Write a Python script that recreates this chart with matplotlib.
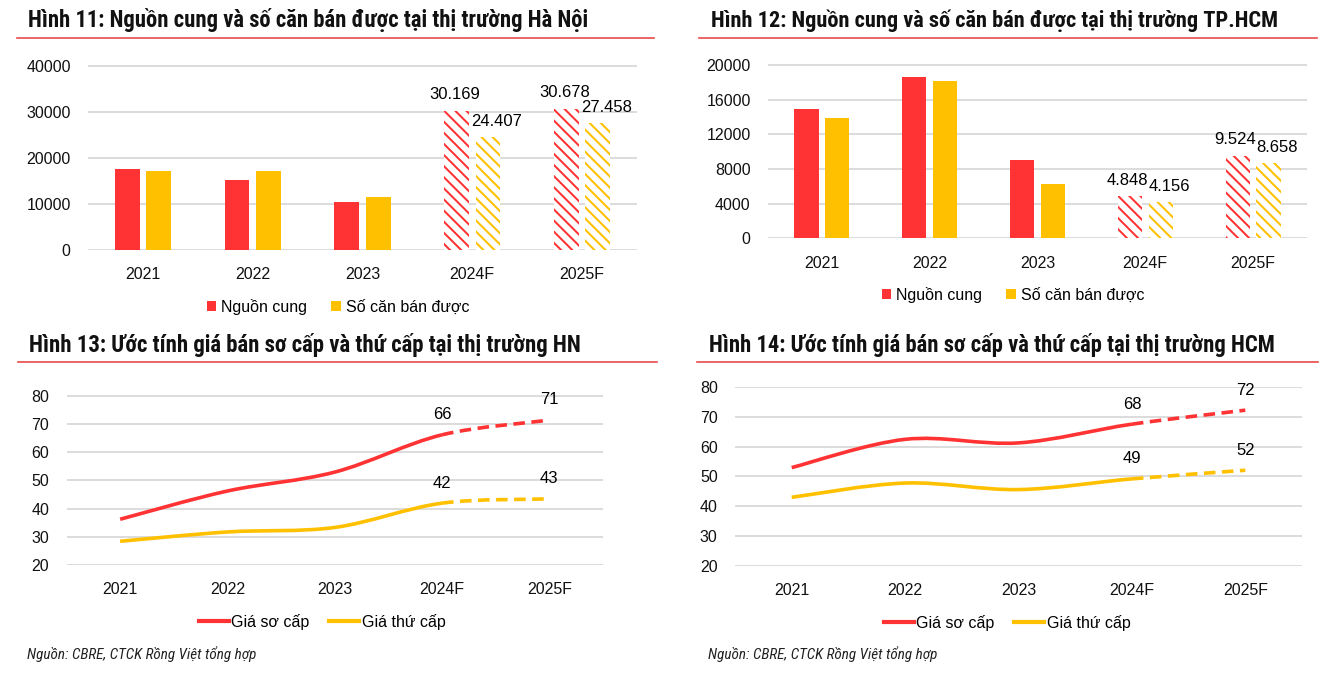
import matplotlib
matplotlib.use('Agg')
import matplotlib.pyplot as plt
from matplotlib import font_manager
from matplotlib.path import Path
from matplotlib.patches import PathPatch, Patch
from matplotlib.lines import Line2D
import numpy as np

years = ['2021', '2022', '2023', '2024F', '2025F']
n_actual = 3  # 2021-2023 are actual, 2024F/2025F are forecasts

# Hình 11 / 12: supply and units sold
hn_supply = [17500, 15100, 10400, 30169, 30678]
hn_sold = [17150, 17150, 11400, 24407, 27458]
hcm_supply = [14850, 18620, 8970, 4848, 9524]
hcm_sold = [13830, 18080, 6210, 4156, 8658]

# Hình 13 / 14: primary and secondary prices
hn_primary = [36.2, 46.2, 52.9, 66.1, 71.3]
hn_secondary = [28.4, 31.7, 33.3, 41.9, 43.4]
hcm_primary = [53.0, 62.5, 61.3, 67.6, 72.3]
hcm_secondary = [43.0, 47.8, 45.6, 49.2, 52.1]

RED = '#FF3333'
YELLOW = '#FFC000'
GRID = '#D9D9D9'

# look for a condensed face for the titles
fonts = font_manager.fontManager.ttflist
names = {f.name for f in fonts}
BODY = 'Liberation Sans'
NARROW, STRETCH = 'Liberation Sans', 'normal'
for cand in ['Liberation Sans Narrow', 'DejaVu Sans Condensed', 'Roboto Condensed',
             'Open Sans Condensed', 'Noto Sans Condensed']:
    if cand in names:
        NARROW = cand
        break
else:
    for f in fonts:
        if f.stretch in ('condensed', 'semi-condensed', 'extra-condensed') and \
                f.name in ('Noto Sans', 'Open Sans', 'Roboto', 'DejaVu Sans', 'Inter'):
            NARROW, STRETCH = f.name, 'condensed'
            break

plt.rcParams['font.family'] = [BODY, 'DejaVu Sans']
plt.rcParams['hatch.linewidth'] = 1.45

W, H = 1340, 673
fig = plt.figure(figsize=(W / 100, H / 100), dpi=100)


def px(x, y):
    return x / W, 1 - y / H


def make_ax(x0, x1, ytop, ybot):
    ax = fig.add_axes([x0 / W, 1 - ybot / H, (x1 - x0) / W, (ybot - ytop) / H])
    for sp in ax.spines.values():
        sp.set_visible(False)
    ax.tick_params(length=0, pad=12.5, labelsize=11.5, colors='#111111')
    ax.yaxis.grid(True, color=GRID, lw=1.3)
    ax.set_axisbelow(True)
    ax.set_xlim(-0.5, len(years) - 0.5)
    ax.set_xticks(range(len(years)))
    ax.set_xticklabels(years)
    return ax


def fmt_vn(v):
    return f'{v:,}'.replace(',', '.')


def bar_panel(ax, supply, sold, ymax, step):
    x = np.arange(len(years))
    off, w = 0.143, 0.225
    a, f = slice(0, n_actual), slice(n_actual, None)
    ax.bar(x[a] - off, supply[a], width=w, color=RED, lw=0)
    ax.bar(x[a] + off, sold[a], width=w, color=YELLOW, lw=0)
    ax.bar(x[f] - off, supply[f], width=w, color='white', edgecolor=RED,
           hatch='\\\\\\', lw=0)
    ax.bar(x[f] + off, sold[f], width=w, color='white', edgecolor=YELLOW,
           hatch='\\\\\\', lw=0)
    for i in range(n_actual, len(years)):
        ax.annotate(fmt_vn(supply[i]), (x[i] - off, supply[i]), xytext=(-1.5, 11.5),
                    textcoords='offset points', ha='center', va='center', fontsize=12)
        ax.annotate(fmt_vn(sold[i]), (x[i] + off, sold[i]), xytext=(6, 11.5),
                    textcoords='offset points', ha='center', va='center', fontsize=12)
    ax.set_ylim(0, ymax * 1.003)
    ax.set_yticks(np.arange(0, ymax + 1, step))


def seg(pts, i):
    p0 = pts[i - 1] if i > 0 else pts[i]
    p3 = pts[i + 2] if i + 2 < len(pts) else pts[i + 1]
    c1 = pts[i] + (pts[i + 1] - p0) / 6
    c2 = pts[i + 1] - (p3 - pts[i]) / 6
    return [c1, c2, pts[i + 1]]


def curve(ax, vals, color, ls):
    pts = np.column_stack([np.arange(len(vals)), vals]).astype(float)
    for lo, hi, style in [(0, n_actual, '-'), (n_actual, len(vals) - 1, ls)]:
        verts, codes = [pts[lo]], [Path.MOVETO]
        for i in range(lo, hi):
            verts += seg(pts, i)
            codes += [Path.CURVE4] * 3
        ax.add_patch(PathPatch(Path(verts, codes), fill=False, edgecolor=color,
                               lw=2.6, linestyle=style, capstyle='butt'))
    for i in range(n_actual, len(vals)):
        ax.annotate(f'{vals[i]:.0f}', (i, vals[i]), xytext=(0, 14.5),
                    textcoords='offset points', ha='center', va='center', fontsize=12)


def line_panel(ax, primary, secondary):
    dash = (0, (3.2, 1.8))
    curve(ax, primary, RED, dash)
    curve(ax, secondary, YELLOW, dash)
    ax.set_ylim(20, 80.2)
    ax.set_yticks(np.arange(20, 81, 10))


def header(text, x_text, y_base, width, x0, x1, y_line):
    t = fig.text(*px(x_text, y_base), text, fontsize=14, fontweight='bold',
                 family=[NARROW, 'DejaVu Sans'], fontstretch=STRETCH,
                 color='#111111', va='baseline')
    fig.add_artist(Line2D([x0 / W, x1 / W], [1 - y_line / H] * 2, color='#E84A4A',
                          lw=1.2, transform=fig.transFigure))
    return t, width


# panels
ax1 = make_ax(88, 637, 65, 250)
bar_panel(ax1, hn_supply, hn_sold, 40000, 10000)
ax2 = make_ax(768, 1307, 64.3, 238.3)
bar_panel(ax2, hcm_supply, hcm_sold, 20000, 4000)
ax3 = make_ax(66.5, 603, 395, 565)
line_panel(ax3, hn_primary, hn_secondary)
ax4 = make_ax(735, 1302, 386.7, 565.7)
line_panel(ax4, hcm_primary, hcm_secondary)

fitted = [
    header('Hình 11: Nguồn cung và số căn bán được tại thị trường Hà Nội', 28, 27, 563, 17, 654, 37.7),
    header('Hình 12: Nguồn cung và số căn bán được tại thị trường TP.HCM', 711, 27, 572, 699, 1317, 37.5),
    header('Hình 13: Ước tính giá bán sơ cấp và thứ cấp tại thị trường HN', 29, 352, 555, 18, 657, 361.7),
    header('Hình 14: Ước tính giá bán sơ cấp và thứ cấp tại thị trường HCM', 709, 352, 570, 697, 1318, 361.7),
]

# legends
bar_handles = [Patch(color=RED, lw=0), Patch(color=YELLOW, lw=0)]
bar_labels = ['Nguồn cung', 'Số căn bán được']
line_handles = [Line2D([], [], color=RED, lw=3), Line2D([], [], color=YELLOW, lw=3)]
line_labels = ['Giá sơ cấp', 'Giá thứ cấp']
for (cx, cy), hs, ls, kw in [
    ((338, 307), bar_handles, bar_labels, dict(handlelength=0.6, handleheight=0.6, handletextpad=0.3, columnspacing=1.5)),
    ((1013, 295), bar_handles, bar_labels, dict(handlelength=0.6, handleheight=0.6, handletextpad=0.3, columnspacing=1.5)),
    ((322, 622), line_handles, line_labels, dict(handlelength=1.9, handletextpad=0.15, columnspacing=1.2)),
    ((1007, 623), line_handles, line_labels, dict(handlelength=1.9, handletextpad=0.15, columnspacing=1.2)),
]:
    fig.legend(hs, ls, loc='center', bbox_to_anchor=px(cx, cy), ncol=2, frameon=False,
               fontsize=11.5, borderpad=0, borderaxespad=0, **kw)

for x in (27, 708):
    s = fig.text(*px(x, 654), 'Nguồn: CBRE, CTCK Rồng Việt tổng hợp', fontsize=10.5,
                 style='italic', family=[NARROW, 'DejaVu Sans'], fontstretch=STRETCH,
                 color='#222222', va='center')
    fitted.append((s, 230))

# fit text widths to the reference
r = fig.canvas.get_renderer()
for t, w in fitted:
    bb = t.get_window_extent(r)
    t.set_fontsize(t.get_fontsize() * w / bb.width)

fig.savefig('out.png', dpi=100)
